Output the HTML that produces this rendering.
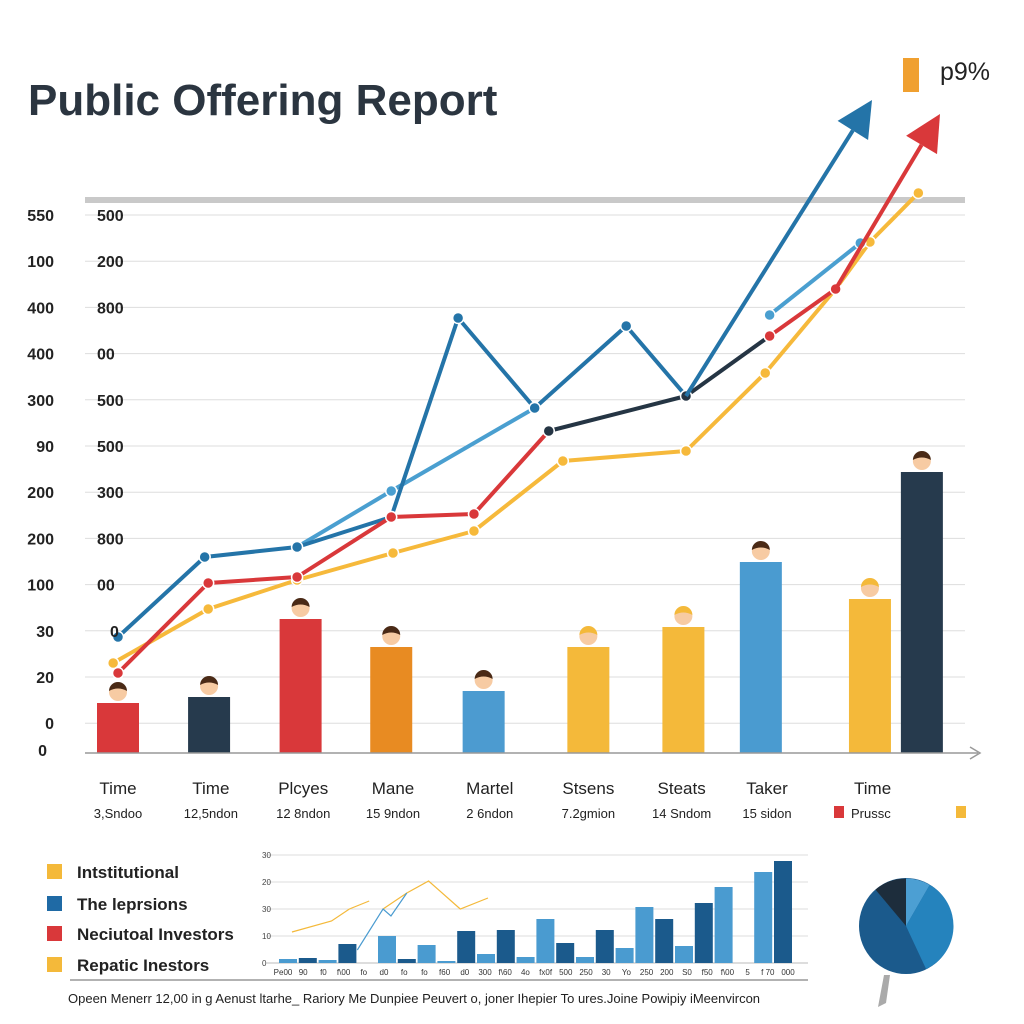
<!DOCTYPE html>
<html><head><meta charset="utf-8"><style>
body{margin:0;background:#fff;}
svg{display:block;font-family:"Liberation Sans",sans-serif;}
</style></head><body>
<svg id="c" width="1024" height="1024" viewBox="0 0 1024 1024">
<text x="28" y="115" font-size="44" font-weight="bold" fill="#2b3540">Public Offering Report</text>
<rect x="903" y="58" width="16" height="34" fill="#f0a030"/>
<text x="940" y="80" font-size="25" fill="#222">p9%</text>
<rect x="85" y="197" width="880" height="6" fill="#c9c9c9"/>
<g id="grid"></g><g id="bars"></g><g id="lines"></g><g id="labels"></g><g id="mini"></g>
<line x1="85" y1="753" x2="978" y2="753" stroke="#999" stroke-width="1.5"/>
<path d="M970 747 L980 753 L970 759" fill="none" stroke="#999" stroke-width="1.5"/>
<line x1="70" y1="980" x2="808" y2="980" stroke="#999" stroke-width="1.5"/>
<text x="68" y="1003" font-size="13" fill="#222">Opeen Menerr 12,00 in g Aenust ltarhe_ Rariory Me Dunpiee Peuvert o, joner Ihepier To ures.Joine Powipiy iMeenvircon</text>
<g>
<rect x="47" y="864" width="15" height="15" fill="#f4b93a"/>
<text x="77" y="878" font-size="17" font-weight="bold" fill="#222">Intstitutional</text>
<rect x="47" y="896" width="15" height="15" fill="#1f6aa5"/>
<text x="77" y="910" font-size="17" font-weight="bold" fill="#222">The leprsions</text>
<rect x="47" y="926" width="15" height="15" fill="#d9383a"/>
<text x="77" y="940" font-size="17" font-weight="bold" fill="#222">Neciutoal Investors</text>
<rect x="47" y="957" width="15" height="15" fill="#f4b93a"/>
<text x="77" y="971" font-size="17" font-weight="bold" fill="#222">Repatic Inestors</text>
</g>
<g>
<path d="M884 975 L890 975 L886 1003 L878 1007 Z" fill="#aaa"/>
<ellipse cx="906" cy="926" rx="47" ry="48" fill="#1b5a8c"/>
<path id="pieA" fill="#1d2d3c"/>
<path id="pieB" fill="#4c9fd3"/>
<path id="pieC" fill="#2583bd"/>
</g>
</svg>
<script>
const leftTicks=["550","100","400","400","300","90","200","200","100","30","20","0"];
const rightTicks=["500","200","800","00","500","500","300","800","00","0","",""];
const catTop=["Time","Time","Plcyes","Mane","Martel","Stsens","Steats","Taker","Time"];
const catTopPos=[0.375,1.43,2.48,3.5,4.6,5.72,6.78,7.75,8.95];
const catSub=["3,Sndoo","12,5ndon","12 8ndon","15 9ndon","2 6ndon","7.2gmion","14 Sndom","15 sidon"];
const barPos=[0.375,1.41,2.45,3.48,4.53,5.72,6.8,7.68,8.92,9.51];
const barVals=[50,56,134,106,62,106,126,191,154,281];
const barColors=["#d9383a","#263a4d","#d9383a","#e88b22","#4c9bd0","#f4b93a","#f4b93a","#4a9bd0","#f4b93a","#263a4d"];
const blueX=[0.375,1.36,2.41,3.48,4.24,5.11,6.15,6.83];
const blueV=[116,196,206,236,435,345,427,357];
const lightX=[2.41,3.48,5.11];const lightV=[206,262,345];
const light2X=[7.78,8.81];const light2V=[438,510];
const redX=[0.375,1.40,2.41,3.48,4.42,5.27];const redV=[80,170,176,236,239,322];
const navyX=[5.27,6.83,7.78];const navyV=[322,357,417];
const red2X=[7.78,8.53];const red2V=[417,464];
const yelX=[0.32,1.40,2.41,3.5,4.42,5.43,6.83,7.73,8.53,8.92,9.47];
const yelV=[90,144,173,200,222,292,302,380,464,511,560];
const miniVals=[4,5,3,19,27,4,18,2,32,9,33,6,44,20,6,33,15,56,44,17,60,76,91,102];
const miniPos=[0,1,2,3,5,6,7,8,9,10,11,12,13,14,15,16,17,18,19,20,21,22,24,25];
const miniDark=[0,1,0,1,0,1,0,0,1,0,1,0,0,1,0,1,0,0,1,0,1,0,0,1];
const miniTicks=["0","10","30","20","30"];
const miniXLabels=["Pe00","90","f0","f\\00","fo","d0","fo","fo","f60","d0","300","f\\60","4o","fx0f","500","250","30","Yo","250","200","S0","f50","f\\00","5","f 70","000"];
const miniLineX=[0.2,2.2,3.1,4.1];const miniLineV=[31,42,54,62];
const miniLine2X=[4.8,6,7.1,8.7,10.1];const miniLine2V=[54,70,82,54,65];
const miniLine3X=[3.5,4.8,5.2,6];const miniLine3V=[13,54,47,70];

const NS="http://www.w3.org/2000/svg";
function mk(t,a,p){const e=document.createElementNS(NS,t);for(const k in a)e.setAttribute(k,a[k]);p.appendChild(e);return e;}
const xs=u=>85+u*88, ys=v=>753-v;
const G=document.getElementById('grid'),B=document.getElementById('bars'),L=document.getElementById('lines'),T=document.getElementById('labels'),M=document.getElementById('mini');
leftTicks.forEach((t,i)=>{const y=215+i*46.2;
 const g=mk('line',{x1:85,y1:y,x2:965,y2:y,stroke:'#ddd','stroke-width':1},G);
 
 
 const a=mk('text',{x:54,y:y+6,'font-size':16,'font-weight':'bold','text-anchor':'end',fill:'#222'},T);a.textContent=t;
 
 
 if(rightTicks[i]){const b=mk('text',{x:i==9?110:97,y:y+6,'font-size':16,'font-weight':'bold',fill:'#222'},T);b.textContent=rightTicks[i];
 
 }
});
{const z=mk('text',{x:47,y:756,'font-size':16,'font-weight':'bold','text-anchor':'end',fill:'#222'},T);z.textContent="0";

}
barVals.forEach((v,i)=>{const cx=xs(barPos[i]),top=ys(v);
 const r=mk('rect',{x:cx-21,y:top,width:42,height:v,fill:barColors[i]},B);
 
 
 const g=mk('g',{},B);
 
 
 mk('path',{d:`M${cx-9} ${top} Q${cx} ${top-8} ${cx+9} ${top} Z`,fill:'#fff'},g);
 mk('circle',{cx:cx,cy:top-11,r:9,fill:'#f7cba3'},g);
 mk('path',{d:`M${cx-9} ${top-12} A9 9 0 0 1 ${cx+9} ${top-12} Q${cx} ${top-17} ${cx-9} ${top-12}Z`,fill:barColors[i]=="#f4b93a"?'#f4b93a':'#4a2a16'},g);
});
function line(X,V,col,name,w){const d=X.map((x,i)=>(i?'L':'M')+xs(x)+' '+ys(V[i])).join(' ');
 const p=mk('path',{d:d,fill:'none',stroke:col,'stroke-width':w||4,'stroke-linejoin':'round'},L);
 
 
 X.forEach((x,i)=>{const c=mk('circle',{cx:xs(x),cy:ys(V[i]),r:5.5,fill:col,stroke:'#fff','stroke-width':1.5},L);
 
 });}
line(yelX,yelV,'#f6b93b','series-retail');
line(lightX,lightV,'#4a9fd0','series-light-blue');
line(light2X,light2V,'#4a9fd0','series-light-blue-2');
line(blueX,blueV,'#2474a8','series-blue');
line(redX,redV,'#d9383a','series-red');
line(navyX,navyV,'#253544','series-navy');
line(red2X,red2V,'#d9383a','series-red-2');
function arrow(x1,y1,x2,y2,col,name){const g=mk('g',{},L);
 
 
 const a=Math.atan2(y2-y1,x2-x1),l=36,w=18;
 const bx=x2-l*Math.cos(a),by=y2-l*Math.sin(a);
 mk('line',{x1:x1,y1:y1,x2:bx,y2:by,stroke:col,'stroke-width':4},g);
 mk('polygon',{points:`${x2},${y2} ${bx+w*Math.sin(a)},${by-w*Math.cos(a)} ${bx-w*Math.sin(a)},${by+w*Math.cos(a)}`,fill:col},g);}
arrow(xs(6.83),ys(357),872,100,'#2474a8','blue-arrow');
arrow(xs(8.53),ys(464),940,114,'#d9383a','red-arrow');
catTop.forEach((t,i)=>{const e=mk('text',{x:xs(catTopPos[i]),y:794,'font-size':17,'text-anchor':'middle',fill:'#222'},T);e.textContent=t;
 
 
 if(catSub[i]){const s=mk('text',{x:xs(catTopPos[i]),y:818,'font-size':13,'text-anchor':'middle',fill:'#222'},T);s.textContent=catSub[i];
 
 }});
{const r=mk('rect',{x:834,y:806,width:10,height:12,fill:'#d9383a'},T);


const t=mk('text',{x:851,y:818,'font-size':13,fill:'#222'},T);t.textContent="Prussc";


const r2=mk('rect',{x:956,y:806,width:10,height:12,fill:'#f4b93a'},T);

}
// mini chart
const mx=p=>288+p*19.8, my=v=>963-v;
miniTicks.forEach((t,i)=>{const y=963-i*27;
 if(i){const g=mk('line',{x1:266,y1:y,x2:808,y2:y,stroke:'#ddd','stroke-width':1},M);
 
 }
 const e=mk('text',{x:262,y:y+3,'font-size':8,fill:'#444'},M);e.textContent=t;
 
 });
{const ax=mk('line',{x1:266,y1:963,x2:808,y2:963,stroke:'#bbb','stroke-width':1},M);

}
miniVals.forEach((v,i)=>{const r=mk('rect',{x:mx(miniPos[i])-9,y:my(v),width:18,height:v,fill:miniDark[i]?'#1b5a8c':'#4a9bd0'},M);
 
 });
miniXLabels.forEach((t,i)=>{const e=mk('text',{x:283+i*20.2,y:975,'font-size':8,'text-anchor':'middle',fill:'#333'},M);e.textContent=t;
 
 });
function mline(X,V,col,name){const p=mk('path',{d:X.map((x,i)=>(i?'L':'M')+mx(x)+' '+my(V[i])).join(' '),fill:'none',stroke:col,'stroke-width':1.2},M);
 
 }
mline(miniLineX,miniLineV,'#f4b93a','mini-line-1');
mline(miniLine2X,miniLine2V,'#f4b93a','mini-line-2');
mline(miniLine3X,miniLine3V,'#4a9bd0','mini-line-3');
// pie
const cx=906,cy=926,R=47.5;
const pt=a=>[cx+R*Math.sin(a*Math.PI/180),cy-R*Math.cos(a*Math.PI/180)];
function arc(a1,a2){const p=pt(a1),q=pt(a2);return `M${cx} ${cy} L${p[0]} ${p[1]} A${R} ${R} 0 ${a2-a1>180?1:0} 1 ${q[0]} ${q[1]} Z`;}
document.getElementById('pieA').setAttribute('d',arc(-40,0));
document.getElementById('pieB').setAttribute('d',arc(0,30));
document.getElementById('pieC').setAttribute('d',arc(30,155));
</script>
</body></html>
